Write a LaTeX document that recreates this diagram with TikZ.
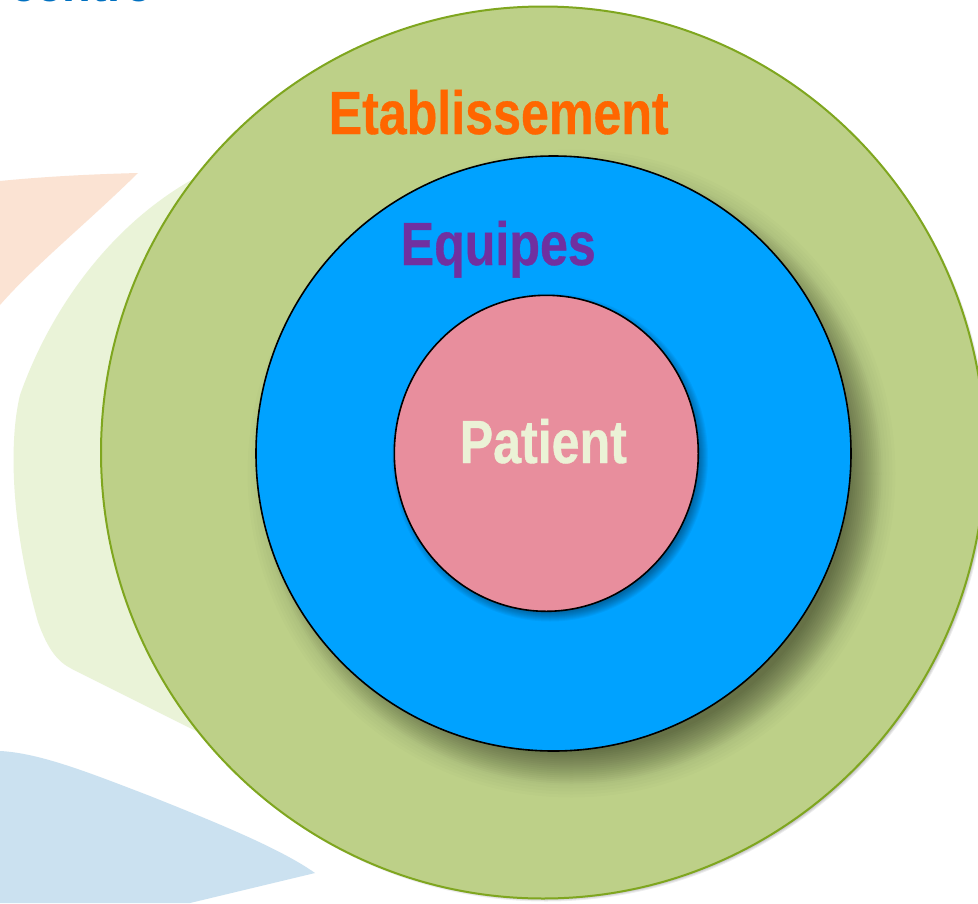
\documentclass[tikz,border=0pt]{standalone}
\usepackage{fontspec}
\setmainfont{Liberation Sans}
\newfontfamily\narrowbold[FakeStretch=0.822,FakeBold=0.6]{Liberation Sans Bold}
\definecolor{peachbg}{HTML}{FBE3D3}
\definecolor{greenbg}{HTML}{EAF3D8}
\definecolor{bluebg}{HTML}{CBE1F0}
\definecolor{outerfill}{HTML}{BDD088}
\definecolor{outerline}{HTML}{7FA61F}
\definecolor{midfill}{HTML}{00A2FF}
\definecolor{innerfill}{HTML}{E88E9D}
\definecolor{estabcol}{HTML}{FF6600}
\definecolor{teamcol}{HTML}{7030A0}
\definecolor{patientcol}{HTML}{EBF2D6}
\definecolor{titlecol}{HTML}{0070C0}
\tikzset{
  bigtext/.style={font=\narrowbold\fontsize{61}{61}\selectfont,inner sep=0pt,anchor=base west},
  softshade/.style={draw=none,fill=black,fill opacity=#1},
  ringline/.style={line width=1.6pt,draw=black}
}
\begin{document}
\begin{tikzpicture}[x=1pt,y=-1pt]
\useasboundingbox (0,0) rectangle (978,903);
\clip (0,0) rectangle (978,903);
\fill[white] (0,0) rectangle (978,903);
% background swooshes
\fill[peachbg] (0,181) .. controls (50,176) and (100,174) .. (138,173)
  .. controls (85,225) and (35,265) .. (0,305) -- cycle;
\fill[greenbg] (195,178) .. controls (110,225) and (50,310) .. (20,395)
  .. controls (8,445) and (12,530) .. (38,622)
  .. controls (48,650) and (58,662) .. (72,669)
  -- (200,733) -- (260,500) -- cycle;
\fill[bluebg] (0,751) .. controls (40,753) and (90,773) .. (150,796)
  .. controls (210,820) and (280,848) .. (315,873)
  -- (190,903) -- (0,903) -- cycle;
% outer circle, soft edge and fill
\foreach \r in {0,1,...,5} {
  \fill[softshade=.07] (546,455.5) ellipse ({442-\r} and {446-\r});
}
\filldraw[fill=outerfill,draw=outerline,line width=2pt] (543,452.5) ellipse (442 and 446);
% shadow of the middle circle: faint outer layers, denser towards the edge
\foreach \r in {0,3,...,12} {
  \fill[softshade=.012] (571.5,473.5) circle ({324-\r});
}
\foreach \r in {14,16,...,46} {
  \fill[softshade=.027] (571.5,473.5) circle ({324-\r});
}
\filldraw[fill=midfill,ringline] (553.5,453.5) circle (297.5);
% shadow of the inner circle
\foreach \r in {0,1,...,9} {
  \fill[softshade=.04] (550,457.5) ellipse ({158-\r} and {164-\r});
}
\filldraw[fill=innerfill,ringline] (546.3,453.3) ellipse (152 and 158);
% labels
\node[font=\bfseries\fontsize{47}{47}\selectfont,text=titlecol,inner sep=0pt,anchor=base west] (title) at (10.5,1) {centre};
\node[bigtext,text=estabcol] (estab) at (328.5,134) {Etablissement};
\node[bigtext,text=teamcol] (team) at (400.5,265) {Equipes};
\node[bigtext,text=patientcol] (patient) at (459.5,463) {Patient};
\end{tikzpicture}
\end{document}
